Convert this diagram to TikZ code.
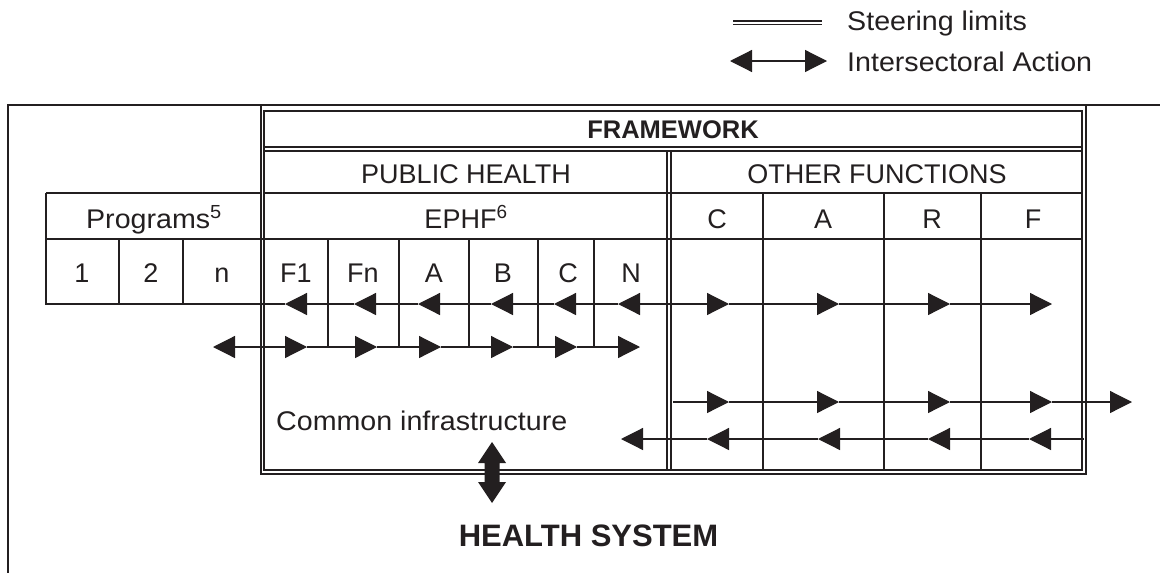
\documentclass[tikz,border=0pt]{standalone}
\usepackage{fontspec}
\setmainfont{Liberation Sans}
\newfontfamily\widefont[FakeStretch=1.06]{Liberation Sans}
\usetikzlibrary{arrows.meta}
\definecolor{ink}{RGB}{35,31,32}
\begin{document}
\begin{tikzpicture}[x=1pt,y=-1pt,
  >={Triangle[length=22pt,width=22pt]},
  grid/.style={draw=ink,line width=1.1pt},
  frameline/.style={draw=ink,line width=2.4pt},
  conn/.style={draw=ink,line width=1.2pt},
  lbl/.style={inner sep=0pt,anchor=base,text=ink,font=\fontsize{27}{30}\selectfont},
  lblw/.style={lbl,anchor=base west,font=\widefont\fontsize{27}{30}\selectfont},
  bold/.style={lbl,font=\bfseries\fontsize{25.5}{28}\selectfont},
  bigbold/.style={lbl,font=\bfseries\fontsize{31}{34}\selectfont}]
\useasboundingbox (0,0) rectangle (1160,573);

% ---------- legend ----------
\coordinate (sl1) at (733,21); \coordinate (sl2) at (822,21);
\coordinate (sl3) at (733,24.5); \coordinate (sl4) at (822,24.5);
\draw[grid] (sl1) -- (sl2);
\draw[grid] (sl3) -- (sl4);
\node[lblw] (legSteer) at (847,30) {Steering limits};
\coordinate (ia1) at (730,61); \coordinate (ia2) at (827,61);
\draw[conn,<->] (ia1) -- (ia2);
\node[lblw] (legInter) at (847,71) {Intersectoral Action};

% ---------- outer frame ----------
\draw[frameline] (8,574) -- (8,105) -- (1160,105);

% ---------- framework double box ----------
\draw[grid] (261,105) -- (261,474) -- (1086,474);
\draw[frameline,line width=2pt] (1086,105) -- (1086,475);
\draw[grid] (264,111) rectangle (1082,470);
\draw[grid] (264,147) -- (1082,147);
\draw[grid] (264,151) -- (1082,151);
\draw[grid] (264,193) -- (1082,193);
\draw[grid] (667,151) -- (667,470);
\draw[grid] (671,151) -- (671,470);
\foreach \x in {763,884,981} \draw[grid] (\x,193) -- (\x,470);

% ---------- programs / EPHF grid ----------
\draw[grid] (46,193) -- (261,193);
\draw[grid] (46,239) -- (1082,239);
\draw[grid] (46,193) -- (46,304) -- (285,304);
\foreach \x in {119,183} \draw[grid] (\x,239) -- (\x,304);
\foreach \x in {328,399,469,538,594} \draw[grid] (\x,239) -- (\x,347);

% ---------- labels ----------
\node[bold] (fw) at (673,138) {FRAMEWORK};
\node[lbl] (ph) at (466,183) {PUBLIC HEALTH};
\node[lbl] (of) at (877,183) {OTHER FUNCTIONS};
\node[lbl,font=\widefont\fontsize{27}{30}\selectfont] (prog) at (154,228) {Programs\textsuperscript{5}};
\node[lbl] (ephf) at (466,228) {EPHF\textsuperscript{6}};
\node[lbl] (oC) at (717,228) {C};
\node[lbl] (oA) at (823,228) {A};
\node[lbl] (oR) at (932,228) {R};
\node[lbl] (oF) at (1033,228) {F};
\node[lbl] (p1) at (82,282) {1};
\node[lbl] (p2) at (151,282) {2};
\node[lbl] (pn) at (222,282) {n};
\node[lbl] (eF1) at (296,282) {F1};
\node[lbl] (eFn) at (363,282) {Fn};
\node[lbl] (eA) at (434,282) {A};
\node[lbl] (eB) at (503,282) {B};
\node[lbl] (eC) at (568,282) {C};
\node[lbl] (eN) at (631,282) {N};
\node[lblw] (infra) at (276,430) {Common infrastructure};
\node[bigbold] (hs) at (588.5,546) {HEALTH SYSTEM};

% ---------- arrow row A (y=304) ----------
\foreach \n/\x in {1/285,2/354,3/418,4/491,5/554,6/618} \coordinate (a\n) at (\x,304);
\foreach \n/\x in {1/729,2/839,3/950,4/1052} \coordinate (ar\n) at (\x,304);
\foreach \m/\n in {2/1,3/2,4/3,5/4,6/5} \draw[conn,->] (a\m) -- (a\n);
\draw[conn,<->] (a6) -- (ar1);
\foreach \m/\n in {1/2,2/3,3/4} \draw[conn,->] (ar\m) -- (ar\n);

% ---------- arrow row B (y=347) ----------
\coordinate (b0) at (213,347);
\foreach \n/\x in {1/307,2/377,3/441,4/513,5/577,6/640} \coordinate (b\n) at (\x,347);
\draw[conn,<->] (b0) -- (b1);
\foreach \m/\n in {1/2,2/3,3/4,4/5,5/6} \draw[conn,->] (b\m) -- (b\n);

% ---------- arrow row C (y=402) ----------
\coordinate (c0) at (673,402);
\foreach \n/\x in {1/729,2/839,3/950,4/1052,5/1132} \coordinate (c\n) at (\x,402);
\foreach \m/\n in {0/1,1/2,2/3,3/4,4/5} \draw[conn,->] (c\m) -- (c\n);

% ---------- arrow row D (y=439) ----------
\coordinate (d0) at (1084,439);
\foreach \n/\x in {1/1029,2/928,3/818,4/707,5/621} \coordinate (d\n) at (\x,439);
\foreach \m/\n in {0/1,1/2,2/3,3/4,4/5} \draw[conn,->] (d\m) -- (d\n);

% ---------- double arrow infrastructure <-> health system ----------
\coordinate (dtop) at (492,442);
\coordinate (dbot) at (492,503);
\fill[ink] (dtop) -- ++(14,21) -- ++(-6.5,0) -- ++(0,19) -- ++(6.5,0)
  -- (dbot) -- ++(-14,-21) -- ++(6.5,0) -- ++(0,-19) -- ++(-6.5,0) -- cycle;
\end{tikzpicture}
\end{document}
